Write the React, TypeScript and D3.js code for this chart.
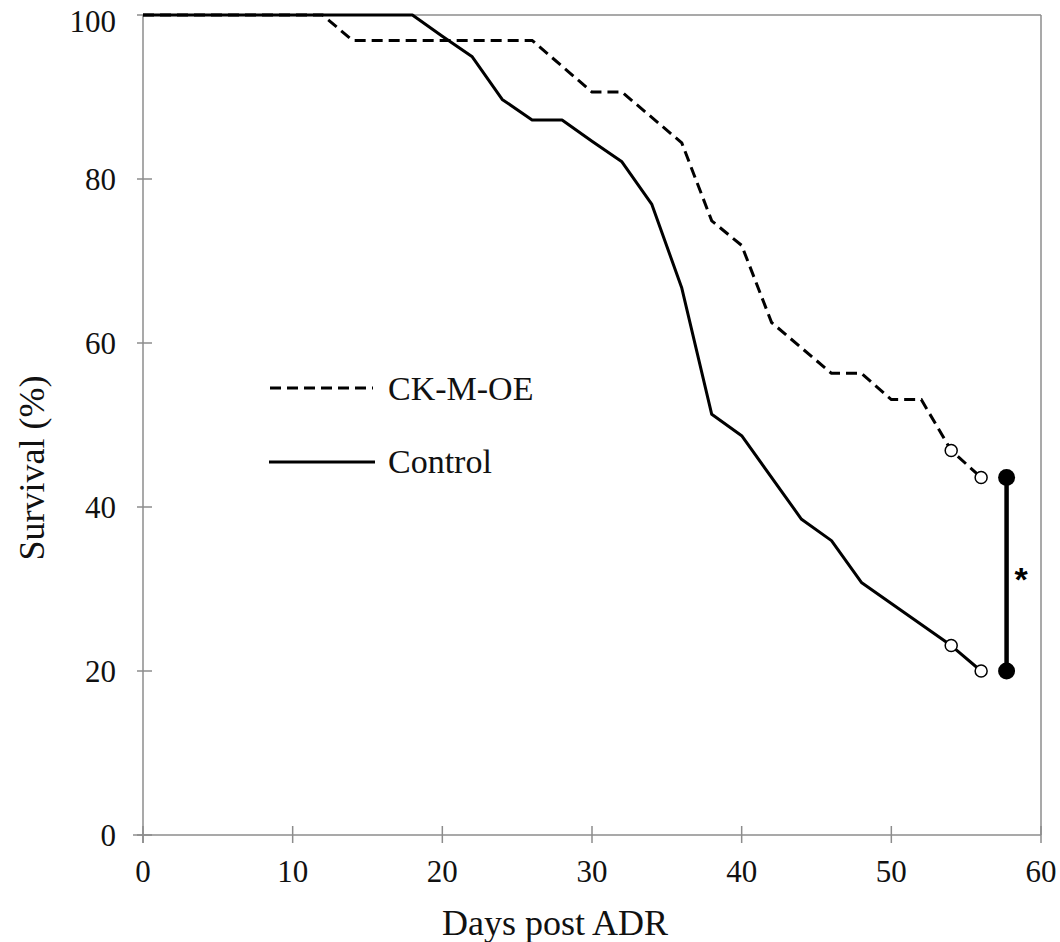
import React from "react";
import * as d3 from "d3";

const controlDays = [0, 18, 20, 22, 24, 26, 28, 30, 32, 34, 36, 38, 40, 44, 46, 48, 54, 56];
const controlSurv = [100, 100, 97.4, 94.9, 89.7, 87.2, 87.2, 84.6, 82.1, 76.9, 66.7, 51.3, 48.7, 38.5, 35.9, 30.8, 23.1, 20.0];
const ckDays = [0, 12, 14, 26, 30, 32, 36, 38, 40, 42, 46, 48, 50, 52, 54, 56];
const ckSurv = [100, 100, 96.9, 96.9, 90.6, 90.6, 84.4, 74.9, 71.9, 62.5, 56.3, 56.3, 53.1, 53.1, 46.9, 43.6];
const censorDays = [54, 56];
const compareDay = 57.7;
const compareVals = [43.6, 20.0];
const xTicks = [0, 10, 20, 30, 40, 50, 60];
const yTicks = [0, 20, 40, 60, 80, 100];
const seriesNames = ["CK-M-OE", "Control"];

const W = 1060, H = 942;
const L = 143, R = 1041, T = 15, B = 835;
const FONT = "'Liberation Serif', 'Times New Roman', serif";
const AXIS = "#8c8c8c";

export default function App() {
  const x = d3.scaleLinear().domain([0, 60]).range([L, R]);
  const y = d3.scaleLinear().domain([0, 100]).range([B, T]);
  const line = d3.line<[number, number]>().x(d => x(d[0])).y(d => y(d[1]));
  const ctrl: [number, number][] = controlDays.map((d, i) => [d, controlSurv[i]]);
  const ck: [number, number][] = ckDays.map((d, i) => [d, ckSurv[i]]);
  const valAt = (days: number[], vals: number[], d: number) => vals[days.indexOf(d)];

  return (
    <svg width={W} height={H} style={{ position: "absolute", left: 0, top: 0, background: "#fff" }} fontFamily={FONT}>
      <rect x={0} y={0} width={W} height={H} fill="#fff" />
      {/* frame */}
      <line x1={L} x2={R} y1={T} y2={T} stroke={AXIS} strokeWidth={1.5} />
      <line x1={R} x2={R} y1={T} y2={B} stroke={AXIS} strokeWidth={1.5} />
      {/* y axis */}
      <line x1={L} x2={L} y1={T} y2={B + 8} stroke={AXIS} strokeWidth={1.5} />
      {yTicks.map(t => (
        <g key={"y" + t}>
          <line x1={L - 6} x2={L + 9} y1={y(t)} y2={y(t)} stroke={AXIS} strokeWidth={1.5} />
          <text x={116} y={Math.max(y(t) + 11, 32)} textAnchor="end" fontSize={31} fill="#111">{t}</text>
        </g>
      ))}
      {/* x axis */}
      <line x1={L - 10} x2={R} y1={B} y2={B} stroke={AXIS} strokeWidth={1.5} />
      {xTicks.map(t => (
        <g key={"x" + t}>
          <line x1={x(t)} x2={x(t)} y1={B - 9} y2={B + 8} stroke={AXIS} strokeWidth={1.5} />
          <text x={x(t)} y={882} textAnchor="middle" fontSize={31} fill="#111">{t}</text>
        </g>
      ))}
      <text x={555} y={935} textAnchor="middle" fontSize={36} fill="#111">Days post ADR</text>
      <text transform={`translate(44,${468}) rotate(-90)`} textAnchor="middle" fontSize={36} fill="#111">Survival (%)</text>

      {/* series */}
      <path d={line(ctrl) || ""} fill="none" stroke="#000" strokeWidth={3} strokeLinejoin="round" />
      <path d={line(ck) || ""} fill="none" stroke="#000" strokeWidth={3} strokeDasharray="11 6" />
      {censorDays.map(d => (
        <g key={"c" + d}>
          <circle cx={x(d)} cy={y(valAt(controlDays, controlSurv, d))} r={6} fill="#fff" stroke="#000" strokeWidth={1.5} />
          <circle cx={x(d)} cy={y(valAt(ckDays, ckSurv, d))} r={6} fill="#fff" stroke="#000" strokeWidth={1.5} />
        </g>
      ))}

      {/* significance bar */}
      <line x1={x(compareDay)} x2={x(compareDay)} y1={y(compareVals[0])} y2={y(compareVals[1])} stroke="#000" strokeWidth={4.5} />
      {compareVals.map(v => (
        <circle key={"f" + v} cx={x(compareDay)} cy={y(v)} r={8.5} fill="#000" />
      ))}
      <text x={1021} y={591} textAnchor="middle" fontSize={34} fontWeight="bold" fontFamily="'Liberation Sans', Arial, sans-serif" fill="#000">*</text>

      {/* legend */}
      <line x1={270} x2={373} y1={388} y2={388} stroke="#000" strokeWidth={3} strokeDasharray="11 6" />
      <text x={388} y={400} fontSize={34} fill="#111">{seriesNames[0]}</text>
      <line x1={269} x2={375} y1={462} y2={462} stroke="#000" strokeWidth={3} />
      <text x={388} y={473} fontSize={34} fill="#111">{seriesNames[1]}</text>
    </svg>
  );
}
